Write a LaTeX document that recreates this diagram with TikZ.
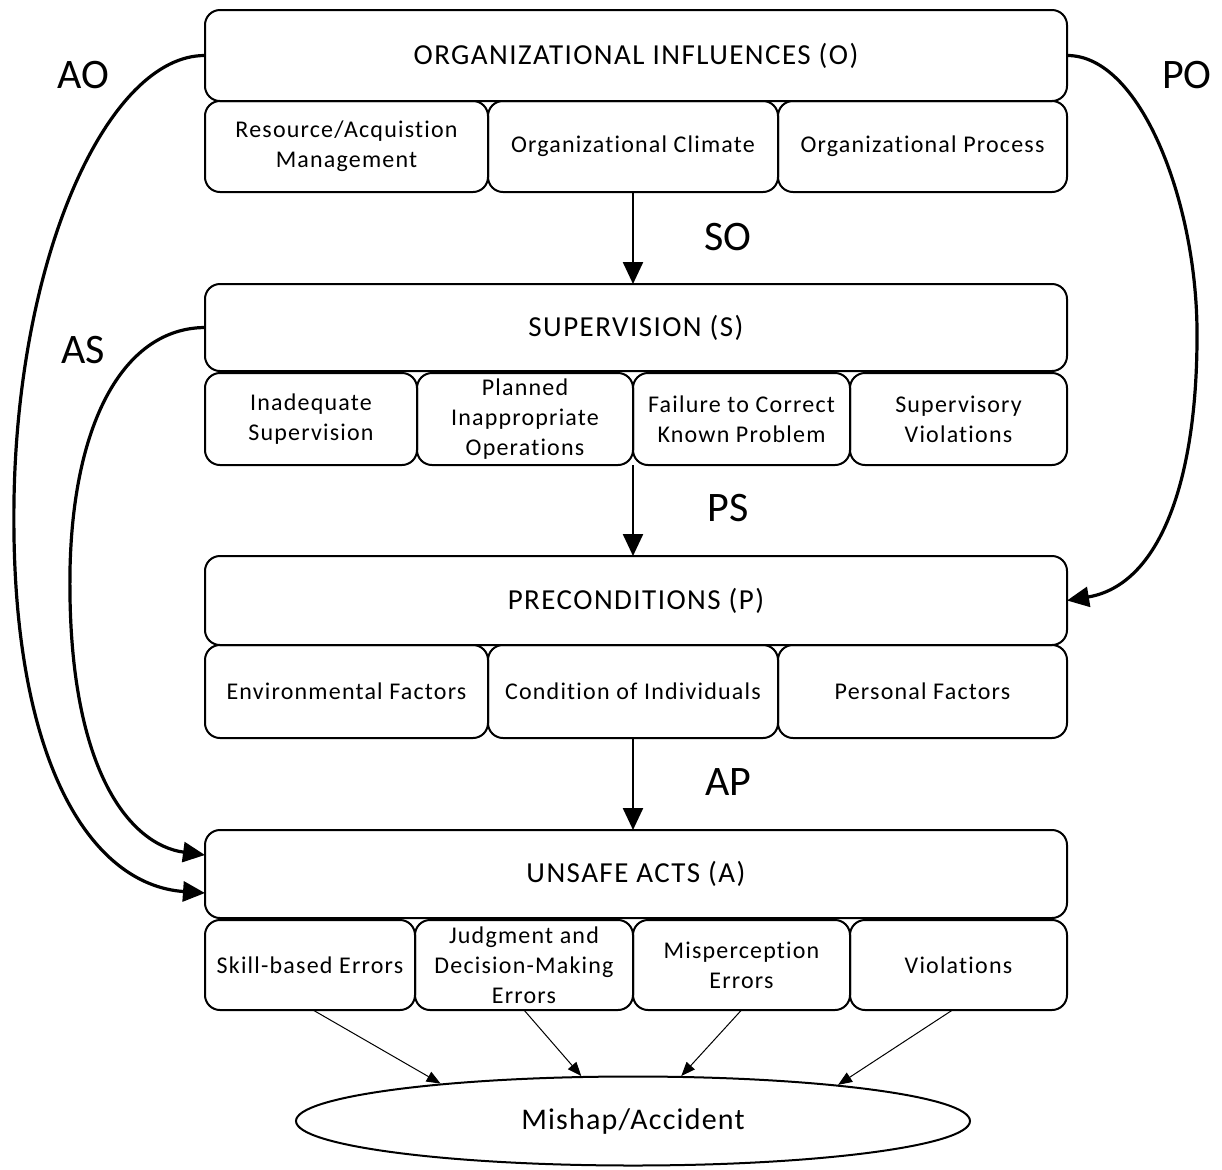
\documentclass[tikz,border=0pt]{standalone}
\usepackage{fontspec}
\setmainfont{Carlito}[Ligatures=NoCommon]
\usetikzlibrary{arrows.meta,shapes.geometric}
\begin{document}
\begin{tikzpicture}[x=0.5pt,y=-0.5pt,
  levelbox/.style={draw,line width=1pt,rounded corners=7.5pt,minimum height=#1,
    inner sep=0pt,outer sep=0pt,align=center,
    font=\fontsize{14.5}{16}\selectfont\addfontfeatures{LetterSpace=5}},
  subbox/.style={draw,line width=1pt,rounded corners=7.5pt,minimum height=#1,
    inner sep=0pt,outer sep=0pt,align=center,
    font=\fontsize{12}{15}\selectfont\addfontfeatures{LetterSpace=5}},
  flow/.style={line width=1.2pt,-{Triangle[length=11pt,width=10pt]}},
  bypass/.style={line width=1.6pt,-{Triangle[length=11pt,width=10pt]}},
  feed/.style={line width=0.5pt,-{Triangle[length=7pt,width=5.5pt]}},
  tag/.style={font=\fontsize{21}{24}\selectfont,inner sep=0pt}]
\useasboundingbox (0,0) rectangle (1222,1169);

% Organizational influences
\node[levelbox=45.5pt,minimum width=431pt] (O) at (636,55.5) {ORGANIZATIONAL INFLUENCES (O)};
\node[subbox=45.5pt,minimum width=141.5pt] (O1) at (346.5,146.5) {Resource/Acquistion\\Management};
\node[subbox=45.5pt,minimum width=145pt] (O2) at (633,146.5) {Organizational Climate};
\node[subbox=45.5pt,minimum width=144.5pt] (O3) at (922.5,146.5) {Organizational Process};

% Supervision
\node[levelbox=43.5pt,minimum width=431pt] (S) at (636,327.5) {SUPERVISION (S)};
\node[subbox=46pt,minimum width=106pt] (S1) at (311,419) {Inadequate\\Supervision};
\node[subbox=46pt,minimum width=108pt] (S2) at (525,419) {Planned\\Inappropriate\\Operations};
\node[subbox=46pt,minimum width=108.5pt] (S3) at (741.5,419) {Failure to Correct\\Known Problem};
\node[subbox=46pt,minimum width=108.5pt] (S4) at (958.5,419) {Supervisory\\Violations};

% Preconditions
\node[levelbox=44.5pt,minimum width=431pt] (P) at (636,600.5) {PRECONDITIONS (P)};
\node[subbox=46.5pt,minimum width=141.5pt] (P1) at (346.5,691.5) {Environmental Factors};
\node[subbox=46.5pt,minimum width=145pt] (P2) at (633,691.5) {Condition of Individuals};
\node[subbox=46.5pt,minimum width=144.5pt] (P3) at (922.5,691.5) {Personal Factors};

% Unsafe acts
\node[levelbox=44pt,minimum width=431pt] (A) at (636,874) {UNSAFE ACTS (A)};
\node[subbox=45pt,minimum width=105pt] (A1) at (310,965) {Skill-based Errors};
\node[subbox=45pt,minimum width=109pt] (A2) at (524,965) {Judgment and\\Decision-Making\\Errors};
\node[subbox=45pt,minimum width=108.5pt] (A3) at (741.5,965) {Misperception\\Errors};
\node[subbox=45pt,minimum width=108.5pt] (A4) at (958.5,965) {Violations};

% Outcome
\node[draw,ellipse,line width=1pt,minimum width=337pt,minimum height=44.5pt,inner sep=0pt,
  font=\fontsize{15}{17}\selectfont\addfontfeatures{LetterSpace=4}] (M) at (633,1121) {Mishap/Accident};

% Direct level-to-level influences
\draw[flow] (O2.south) -- (O2.south |- S.north);
\draw[flow] (S2.south east) -- (S2.south east |- P.north);
\draw[flow] (P2.south) -- (P2.south |- A.north);
\node[tag] (SO) at (728,237) {SO};
\node[tag] (PS) at (728,508) {PS};
\node[tag] (AP) at (728,782) {AP};

% Influences that skip levels
\draw[bypass] (O.west) .. controls (110,55) and (18,250) .. (14,500)
  .. controls (10,760) and (90,885) .. ([yshift=-9.5pt]A.west);
\draw[bypass] (S.west) .. controls (125,328) and (73,420) .. (70,570)
  .. controls (67,770) and (130,845) .. ([yshift=9.5pt]A.west);
\draw[bypass] (O.east) .. controls (1140,55) and (1196,200) .. (1197,330)
  .. controls (1198,480) and (1160,585) .. (P.east);
\node[tag] (AO) at (83,75) {AO};
\node[tag] (AS) at (83,350) {AS};
\node[tag] (PO) at (1187,75) {PO};

% Unsafe acts leading to the mishap
\draw[feed] ([xshift=1.5pt]A1.south) -- (M.169.6);
\draw[feed] (A2.south) -- (M.139.2);
\draw[feed] (A3.south) -- (M.43.1);
\draw[feed] ([xshift=-3pt]A4.south) -- (M.10.6);
\end{tikzpicture}
\end{document}
